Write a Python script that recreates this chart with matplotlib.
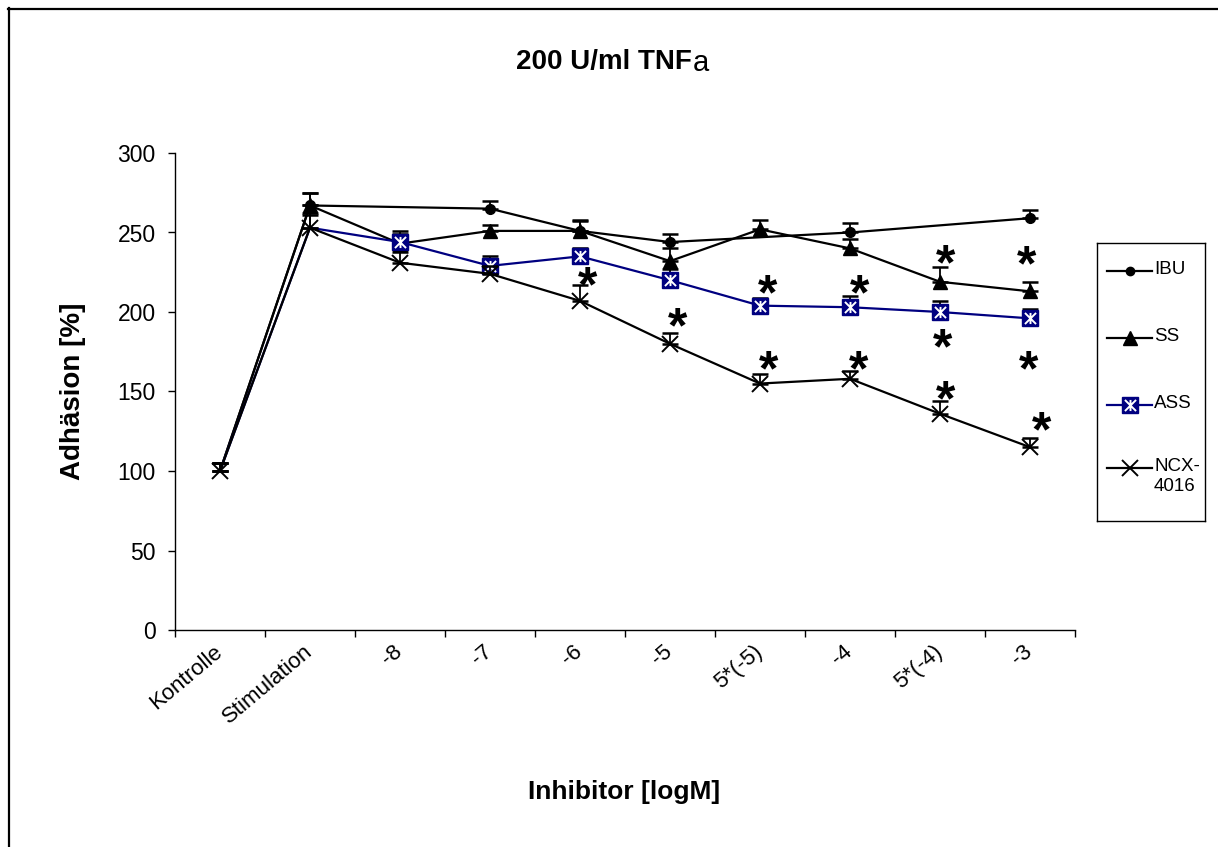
import matplotlib
matplotlib.use('Agg')
import matplotlib.pyplot as plt
import numpy as np
from matplotlib.path import Path
from matplotlib.lines import Line2D

plt.rcParams['font.family'] = ['Liberation Sans', 'DejaVu Sans']

# Messwerte (Adhäsion in % der Kontrolle), nan = nicht gemessen
categories = ['Kontrolle', 'Stimulation', '-8', '-7', '-6', '-5',
              '5*(-5)', '-4', '5*(-4)', '-3']
ibu = [100, 267, np.nan, 265, 251, 244, np.nan, 250, np.nan, 259]
ibu_err = [5, 8, np.nan, 5, 6, 5, np.nan, 6, np.nan, 5]
ss = [100, 267, 243, 251, 251, 232, 252, 240, 219, 213]
ss_err = [5, 8, 6, 4, 7, 8, 6, 6, 9, 6]
ass = [100, 253, 244, 229, 235, 220, 204, 203, 200, 196]
ass_err = [5, 8, 7, 6, 5, 7, 5, 7, 7, 6]
ncx = [100, 253, 231, 224, 207, 180, 155, 158, 136, 115]
ncx_err = [5, 9, 7, 5, 10, 7, 6, 5, 8, 6]

# Signifikanzsterne (Kategorie-Position, Höhe in %)
stars_x = [4.08, 5.08, 6.08, 6.10, 7.11, 7.10, 8.06, 8.03, 8.06, 8.96, 8.98, 9.13]
stars_y = [225, 199, 220, 172, 220, 172, 239, 186, 153, 238, 172, 134]

# Excel-"Stern"-Marker: X mit senkrechtem Strich
star = Path([(-1, -1), (1, 1), (-1, 1), (1, -1), (0, -1), (0, 1)],
            [Path.MOVETO, Path.LINETO, Path.MOVETO, Path.LINETO,
             Path.MOVETO, Path.LINETO])

navy = '#000080'
styles = {
    'IBU': dict(marker='o', ms=7, mfc='black', mec='black'),
    'SS': dict(marker='^', ms=10, mfc='black', mec='black'),
    'ASS': dict(marker='s', ms=11, mfc=navy, mec=navy),
    'NCX': dict(marker='x', ms=11, mec='black', mew=1.4),
}

W, H = 1218, 847
fig = plt.figure(figsize=(W / 100, H / 100), dpi=100)
ax = fig.add_axes([175 / W, 1 - 630 / H, 900 / W, 477 / H])
x = np.arange(len(categories))


def draw(values, errors, color, style, first_marker, z, overlay=False):
    v = np.array(values, float)
    e = np.array(errors, float)
    ok = ~np.isnan(v)
    xs, vs, es = x[ok], v[ok], e[ok]
    ax.errorbar(xs, vs, yerr=[np.zeros_like(es), es], fmt='none',
                ecolor='black', elinewidth=1.3, capsize=5.5, capthick=1.8,
                zorder=z)
    ax.plot(xs, vs, color=color, lw=1.6, zorder=z + 0.1)
    m = xs >= first_marker
    ax.plot(xs[m], vs[m], linestyle='none', zorder=z + 0.2, **style)
    if overlay:
        ax.plot(xs[m], vs[m], linestyle='none', marker=star, ms=8,
                mfc='none', mec='white', mew=1.4, zorder=z + 0.3)


draw(ibu, ibu_err, 'black', styles['IBU'], 1, 2)
draw(ss, ss_err, 'black', styles['SS'], 1, 3)
draw(ass, ass_err, navy, styles['ASS'], 2, 4, overlay=True)
draw(ncx, ncx_err, 'black', styles['NCX'], 0, 5)

star_size = 36
for sx, sy in zip(stars_x, stars_y):
    ax.annotate('*', (sx, sy), xytext=(0, -0.58 * star_size),
                textcoords='offset points', ha='center', va='baseline',
                fontsize=star_size, fontweight='bold', zorder=6)

# Achsen im Excel-Stil: Teilstriche zwischen den Kategorien
ax.set_xlim(-0.5, len(categories) - 0.5)
ax.set_ylim(0, 300)
ax.set_yticks(np.arange(0, 301, 50))
ax.set_xticks(np.arange(-0.5, len(categories), 1.0))
ax.set_xticklabels([])
ax.tick_params(axis='both', which='major', length=5, width=1, direction='out',
               labelsize=16.5, pad=9)
for i, cat in enumerate(categories):
    ax.annotate(cat, (i, 0), xycoords=('data', 'axes fraction'),
                xytext=(-5, -8), textcoords='offset points',
                rotation=40, rotation_mode='anchor', ha='right', va='top',
                fontsize=16)
for side in ('top', 'right'):
    ax.spines[side].set_visible(False)
for side in ('left', 'bottom'):
    ax.spines[side].set_linewidth(1)

ax.set_ylabel('Adhäsion [%]', fontsize=20, fontweight='bold')
ax.yaxis.set_label_coords((86 - 175) / 900, 0.5)
ax.set_xlabel('Inhibitor [logM]', fontsize=19, fontweight='bold')
ax.xaxis.set_label_coords(0.499, (630 - 780) / 477)

# Titel (das "a" in anderer Schrift)
fig.text(692 / W, 1 - 62 / H, '200 U/ml TNF', ha='right', va='center',
         fontsize=20, fontweight='bold')
fig.text(693 / W, 1 - 63 / H, 'a', ha='left', va='center', fontsize=21)

# Legende als eigener Kasten
leg = fig.add_axes([1097 / W, 1 - 521 / H, 108 / W, 278 / H])
leg.set_xlim(0, 108)
leg.set_ylim(278, 0)
leg.set_xticks([])
leg.set_yticks([])
for sp in leg.spines.values():
    sp.set_linewidth(1)
entries = [('IBU', 'IBU', 'black', 27.7), ('SS', 'SS', 'black', 94.7),
           ('ASS', 'ASS', navy, 162), ('NCX', 'NCX-\n4016', 'black', 225)]
for key, text, color, yy in entries:
    st = dict(styles[key])
    if key == 'IBU':
        st['ms'] = 6
    leg.plot([10, 55], [yy, yy], color=color, lw=1.6)
    leg.plot([32.5], [yy], linestyle='none', **st)
    if key == 'ASS':
        leg.plot([32.5], [yy], linestyle='none', marker=star, ms=8,
                 mfc='none', mec='white', mew=1.4)
    leg.text(57, yy - 10, text, ha='left', va='top', fontsize=13.5,
             linespacing=1.2)

# Rahmenkanten oben und links
fig.add_artist(Line2D([8 / W, 1], [1 - 9 / H, 1 - 9 / H], color='black', lw=1.6))
fig.add_artist(Line2D([9 / W, 9 / W], [0, 1 - 8 / H], color='black', lw=1.6))

fig.savefig('out.png', dpi=100)
